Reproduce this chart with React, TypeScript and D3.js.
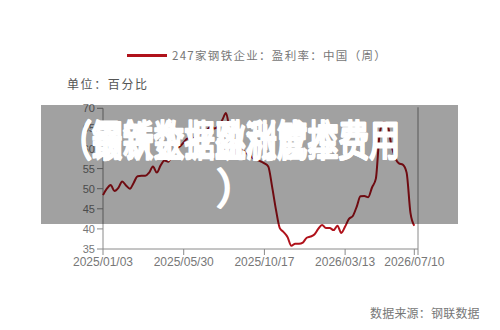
import React from "react";
import * as d3 from "d3";

const seriesName = "247家钢铁企业：盈利率：中国（周）";
const unitLabel = "单位：百分比";
const sourceLabel = "数据来源：钢联数据";
const overlayLines = ["（钢铁企业盈利成本费用", "（最新数据跳涨管控费用"];
const overlaySecond = "）";

const profitRate: number[] = [
  48.4, 50.0, 50.9, 49.4, 50.2, 51.8, 50.8, 50.0, 51.5, 53.1,
  53.2, 53.2, 54.0, 55.5, 54.0, 55.8, 57.0, 56.7, 58.5, 60.0,
  60.5, 61.5, 62.5, 62.0, 63.0, 64.0, 63.5, 64.5, 65.5, 65.0,
  65.5, 67.0, 68.8, 64.5, 62.5, 61.0, 60.0, 59.0, 58.5, 57.6,
  57.2, 56.8, 56.3, 55.5, 50.5, 44.8, 40.2, 39.2, 38.0, 35.8,
  36.3, 36.3, 36.6, 37.8, 38.1, 38.6, 40.0, 41.0, 40.2, 40.2,
  39.7, 40.8, 39.0, 40.6, 42.5, 43.2, 45.5, 48.1, 48.2, 47.9,
  50.3, 52.5, 63.8, 66.5, 66.0, 61.0, 57.8, 56.3, 56.0, 54.0,
  44.0, 40.8,
];

const xTickLabels = ["2025/01/03", "2025/05/30", "2025/10/17", "2026/03/13", "2026/07/10"];
const xTickIndex = [0, 21, 42, 63, 81];
const yTicks = [35, 40, 45, 50, 55, 60, 65, 70];

export default function App() {
  const W = 500, H = 330;
  const x0 = 103, x1 = 414.3, xEnd = 418;
  const yTop = 108.3, yBot = 249;
  const x = d3.scaleLinear().domain([0, profitRate.length - 1]).range([x0, x1]);
  const y = d3.scaleLinear().domain([35, 70]).range([yBot, yTop]);
  const line = d3
    .line<number>()
    .x((_, i) => x(i))
    .y((d) => y(d))
    .curve(d3.curveMonotoneX);
  const axisColor = "#8a8a8a";
  const tickText = "#777";
  const red = "#b0121b";
  const font = "'Liberation Sans', Arial, sans-serif";
  const cjk = "'Noto Sans CJK SC', sans-serif";
  return (
    <svg width={W} height={H} style={{ position: "absolute", left: 0, top: 0, background: "#fff" }}>
      {/* legend */}
      <line x1={127} x2={167} y1={55.5} y2={55.5} stroke={red} strokeWidth={3} />
      <text x={172} y={60} fontSize={11.5} fill="#777" fontFamily={cjk} letterSpacing={1.3}>
        {seriesName}
      </text>
      <text x={67} y={88.5} fontSize={12} fill="#555" fontFamily={cjk} letterSpacing={1.6}>
        {unitLabel}
      </text>
      {/* axes */}
      <line x1={x0} x2={x0} y1={yTop} y2={yBot} stroke={axisColor} strokeWidth={1} />
      <line x1={x0} x2={xEnd} y1={yBot} y2={yBot} stroke={axisColor} strokeWidth={1} />
      <line x1={xEnd} x2={xEnd} y1={yTop - 1} y2={yBot + 6} stroke={axisColor} strokeWidth={1} />
      {yTicks.map((t) => (
        <g key={t}>
          <line x1={x0 - 6} x2={x0} y1={y(t)} y2={y(t)} stroke={axisColor} />
          <text x={x0 - 8} y={y(t) + 4} fontSize={11} fill={tickText} textAnchor="end" fontFamily={font}>
            {t}
          </text>
        </g>
      ))}
      {xTickIndex.map((idx, k) => (
        <g key={idx}>
          <line x1={x(idx)} x2={x(idx)} y1={yBot} y2={yBot + 6} stroke={axisColor} />
          <text x={x(idx)} y={yBot + 17} fontSize={12} fill={tickText} textAnchor="middle" fontFamily={font}>
            {xTickLabels[k]}
          </text>
        </g>
      ))}
      <path d={line(profitRate) || ""} fill="none" stroke={red} strokeWidth={2} />
      <text x={370} y={318} fontSize={12} fill="#777" fontFamily={cjk} letterSpacing={0.2}>
        {sourceLabel}
      </text>
      {/* overlay band */}
      <rect x={41} y={105} width={417} height={119} fill="#000" opacity={0.37} />
      <g fill="#fff" stroke="#fff" strokeLinejoin="round" fontFamily={cjk}>
        {overlayLines.map((s, i) => (
          <text
            key={i}
            x={61}
            y={156}
            fontSize={42}
            strokeWidth={2.4}
            textLength={339}
            lengthAdjust="spacingAndGlyphs"
          >
            {s}
          </text>
        ))}
        <text x={237} y={204} fontSize={42} strokeWidth={2} textAnchor="middle">
          {overlaySecond}
        </text>
      </g>
    </svg>
  );
}
